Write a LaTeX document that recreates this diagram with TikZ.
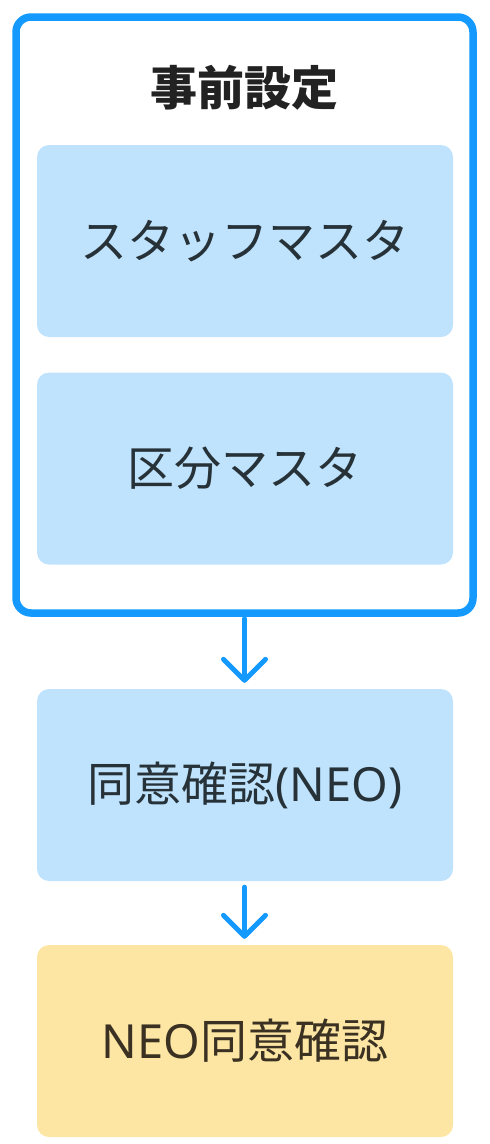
\documentclass[tikz,border=0pt]{standalone}
\usepackage{fontspec}
\usepackage{tikz}
\usetikzlibrary{arrows.meta}
\newfontfamily\jpfont{Noto Sans CJK JP}
\newfontfamily\latinfont{Noto Sans}
\definecolor{flowblue}{HTML}{1499FF}
\definecolor{paleblue}{HTML}{BFE3FD}
\definecolor{paleyellow}{HTML}{FDE6A4}
\definecolor{inkdark}{HTML}{263238}
\definecolor{inkbrown}{HTML}{3A3122}
\tikzset{
  master/.style={rectangle, rounded corners=12pt, fill=paleblue, text=inkdark,
    minimum width=416pt, minimum height=192pt, font=\jpfont\fontsize{47}{56}\selectfont},
  flowarrow/.style={draw=flowblue, line width=5pt, line cap=round,
    -{Straight Barb[length=21pt,width=42pt,round]}}
}
\begin{document}
\begin{tikzpicture}[x=1pt,y=-1pt]
			\useasboundingbox (0,0) rectangle (490,1144);
			\node (setup) [draw=flowblue, line width=7.5pt, rounded corners=15pt,
				minimum width=457pt, minimum height=596pt] at (244.5,315) {};
			\node (title) at (244.5,88) {\jpfont\bfseries\fontsize{47}{56}\selectfont\color[HTML]{222222}事前設定};
			\node (staff) [master] at (245,241) {スタッフマスタ};
			\node (kubun) [master] at (245,468.5) {区分マスタ};
			\node (doui) [master] at (245,785) {同意確認{\latinfont(NEO)}};
			\node (neo) [master, fill=paleyellow, text=inkbrown] at (245,1041) {{\latinfont NEO}同意確認};
			\draw [flowarrow, shorten <=2pt, shorten >=6pt] (setup.south) -- (setup.south |- doui.north);
			\draw [flowarrow, shorten <=6pt, shorten >=6pt] (setup.south |- doui.south) -- (setup.south |- neo.north);
		\end{tikzpicture}
\end{document}
